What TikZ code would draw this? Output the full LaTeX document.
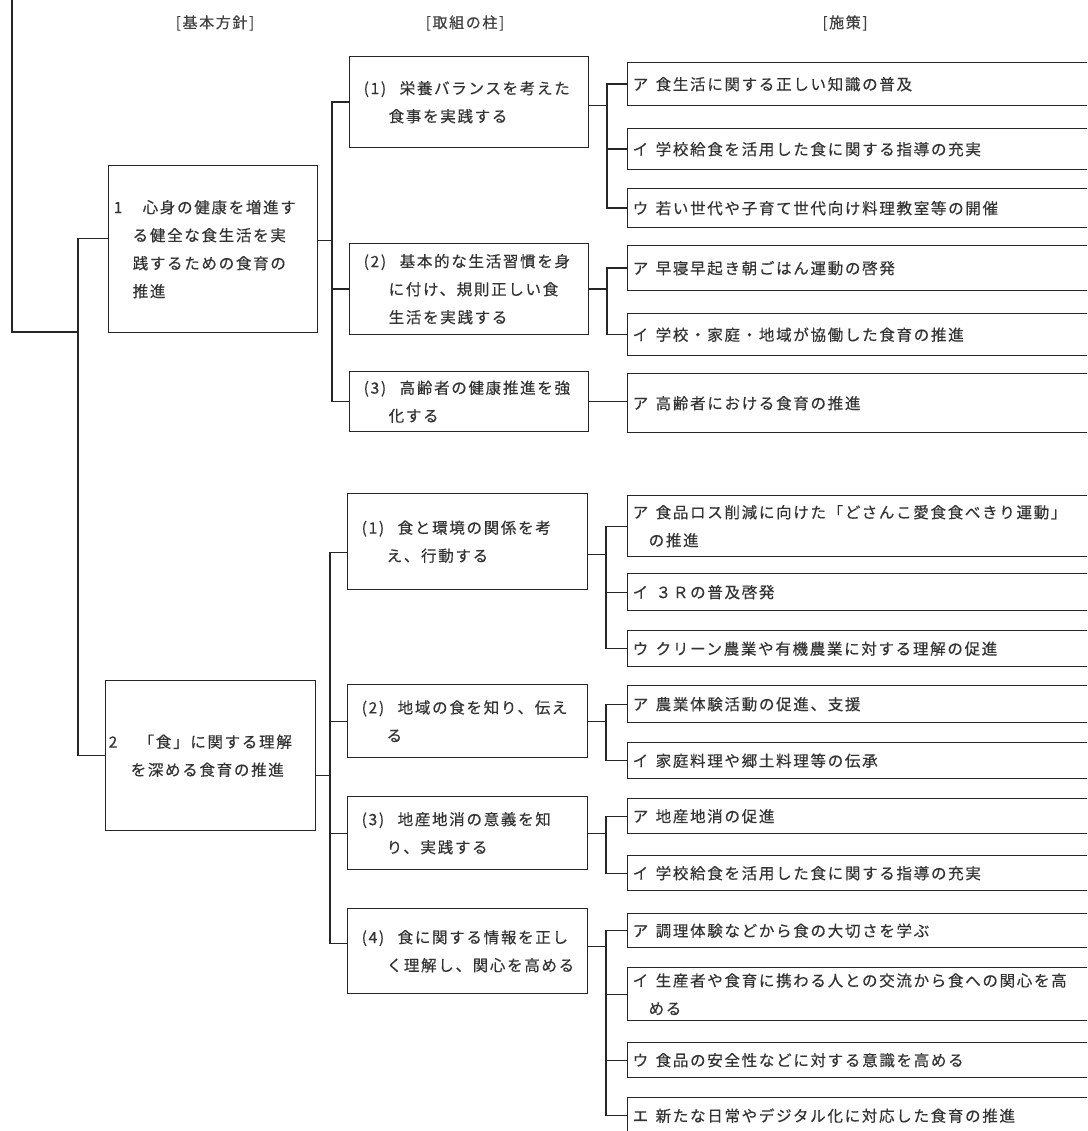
\documentclass[tikz,border=0pt]{standalone}
\usepackage{fontspec}
\setmainfont{Noto Sans CJK JP}[LetterSpace=11,FakeBold=0.4]
\newcommand\lbl[2]{\makebox[#1pt][l]{#2}}
\tikzset{
  frame/.style={draw=black!85, line width=1.4pt, anchor=north west, align=left,
    inner ysep=0pt, font=\fontsize{15.5}{28}\selectfont, text=black!80},
  conn/.style={draw=black!85, line width=1.4pt},
  head/.style={font=\fontsize{15}{18}\selectfont, text=black!75, inner sep=0pt}
}
\newcommand\putbox[7]{%
  \pgfmathsetmacro\bxw{#4-#2-2*#6}%
  \pgfmathsetmacro\bxh{#5-#3}%
  \node[frame, inner xsep=#6pt, text width=\bxw pt, minimum height=\bxh pt] (#1) at (#2,#3) {#7};}
\begin{document}
\begin{tikzpicture}[x=1pt,y=-1pt]
\useasboundingbox (0,0) rectangle (1087,1131);
\clip (0,0) rectangle (1087,1131);
\fill[white] (0,0) rectangle (1087,1131);
% headers
\node[head] (h1) at (215,23) {[基本方針]};
\node[head] (h2) at (465,23) {[取組の柱]};
\node[head] (h3) at (845,23) {[施策]};
% level 1
\putbox{L1a}{108}{165}{317}{332}{5}{\lbl{29}{1}心身の健康を増進す\\\hspace*{19pt}る健全な食生活を実\\\hspace*{19pt}践するための食育の\\\hspace*{19pt}推進}
\putbox{L1b}{105}{680}{315}{830}{3}{\lbl{30}{2}「食」に関する理解\\\hspace*{22pt}を深める食育の推進}
% level 2
\putbox{A1}{349}{56}{588}{147}{14}{\lbl{36}{(1)}栄養バランスを考えた\\\hspace*{25pt}食事を実践する}
\putbox{A2}{349}{243}{588}{334}{14}{\lbl{36}{(2)}基本的な生活習慣を身\\\hspace*{25pt}に付け、規則正しい食\\\hspace*{25pt}生活を実践する}
\putbox{A3}{349}{371}{588}{431}{14}{\lbl{36}{(3)}高齢者の健康推進を強\\\hspace*{25pt}化する}
\putbox{B1}{347}{493}{587}{589}{14}{\lbl{36}{(1)}食と環境の関係を考\\\hspace*{25pt}え、行動する}
\putbox{B2}{347}{684}{587}{757}{14}{\lbl{36}{(2)}地域の食を知り、伝え\\\hspace*{25pt}る}
\putbox{B3}{347}{796}{587}{869}{14}{\lbl{36}{(3)}地産地消の意義を知\\\hspace*{25pt}り、実践する}
\putbox{B4}{347}{908}{587}{993}{14}{\lbl{36}{(4)}食に関する情報を正し\\\hspace*{25pt}く理解し、関心を高める}
% level 3
\putbox{A1a}{627}{62}{1100}{105}{5}{\lbl{23}{ア}食生活に関する正しい知識の普及}
\putbox{A1b}{627}{128}{1100}{169}{5}{\lbl{23}{イ}学校給食を活用した食に関する指導の充実}
\putbox{A1c}{627}{188}{1100}{227}{5}{\lbl{23}{ウ}若い世代や子育て世代向け料理教室等の開催}
\putbox{A2a}{627}{245}{1100}{290}{5}{\lbl{23}{ア}早寝早起き朝ごはん運動の啓発}
\putbox{A2b}{627}{313}{1100}{355}{5}{\lbl{23}{イ}学校・家庭・地域が協働した食育の推進}
\putbox{A3a}{627}{373}{1100}{432}{5}{\lbl{23}{ア}高齢者における食育の推進}
\putbox{B1a}{627}{495}{1100}{556}{5}{\lbl{23}{ア}食品ロス削減に向けた「どさんこ愛食食べきり運動」\\\hspace*{16pt}の推進}
\putbox{B1b}{627}{573}{1100}{610}{5}{\lbl{23}{イ}３Ｒの普及啓発}
\putbox{B1c}{627}{630}{1100}{666}{5}{\lbl{23}{ウ}クリーン農業や有機農業に対する理解の促進}
\putbox{B2a}{627}{685}{1100}{722}{5}{\lbl{23}{ア}農業体験活動の促進、支援}
\putbox{B2b}{627}{742}{1100}{778}{5}{\lbl{23}{イ}家庭料理や郷土料理等の伝承}
\putbox{B3a}{627}{798}{1100}{833}{5}{\lbl{23}{ア}地産地消の促進}
\putbox{B3b}{627}{855}{1100}{890}{5}{\lbl{23}{イ}学校給食を活用した食に関する指導の充実}
\putbox{B4a}{627}{913}{1100}{947}{5}{\lbl{23}{ア}調理体験などから食の大切さを学ぶ}
\putbox{B4b}{627}{967}{1100}{1020}{5}{\lbl{23}{イ}生産者や食育に携わる人との交流から食への関心を高\\\hspace*{16pt}める}
\putbox{B4c}{627}{1042}{1100}{1077}{5}{\lbl{23}{ウ}食品の安全性などに対する意識を高める}
\putbox{B4d}{627}{1097}{1100}{1133}{5}{\lbl{23}{エ}新たな日常やデジタル化に対応した食育の推進}
% bus coordinates
\coordinate (origin) at (12,-5);
\coordinate (jn) at (78,332);
\coordinate (bus0) at (78,0);
\coordinate (bus1) at (332,0);
\coordinate (bus2) at (607,0);
\coordinate (bus3) at (330,0);
\coordinate (bus4) at (606,0);
% root connectors
\draw[conn] (origin) |- (jn);
\coordinate (w1) at ([yshift=10.5pt]L1a.west);
\draw[conn] (w1) -| (bus0 |- L1b.west) -- (L1b.west);
% group 1
\coordinate (e1) at ([yshift=8.5pt]L1a.east);
\draw[conn] (e1) -| (bus1 |- A1.west) -- (A1.west);
\draw[conn] (bus1 |- A1.west) |- (A3.west);
\draw[conn] (bus1 |- A2.west) -- (A2.west);
\coordinate (ea1) at ([yshift=-3.5pt]A1.east);
\draw[conn] (ea1) -| (bus2 |- A1a.west) -- (A1a.west);
\draw[conn] (bus2 |- A1a.west) |- (A1c.west);
\draw[conn] (bus2 |- A1b.west) -- (A1b.west);
\draw[conn] (A2.east) -| (bus2 |- A2a.west) -- (A2a.west);
\draw[conn] (bus2 |- A2a.west) |- (A2b.west);
\draw[conn] (A3.east) -- (A3a.west |- A3.east);
% group 2
\coordinate (e2) at ([yshift=-20pt]L1b.east);
\coordinate (s1) at ([yshift=-11pt]B1.west);
\coordinate (s4) at ([yshift=7.5pt]B4.west);
\draw[conn] (e2) -- (bus3 |- e2);
\draw[conn] (s1) -| (bus3 |- s4) -- (s4);
\draw[conn] (bus3 |- B2.west) -- (B2.west);
\draw[conn] (bus3 |- B3.west) -- (B3.west);
\coordinate (eb1) at ([yshift=-13pt]B1.east);
\draw[conn] (eb1) -| (bus4 |- B1a.west) -- (B1a.west);
\draw[conn] (bus4 |- B1a.west) |- (B1c.west);
\draw[conn] (bus4 |- B1b.west) -- (B1b.west);
\draw[conn] (B2.east) -| (bus4 |- B2a.west) -- (B2a.west);
\draw[conn] (bus4 |- B2a.west) |- (B2b.west);
\draw[conn] (B3.east) -| (bus4 |- B3a.west) -- (B3a.west);
\draw[conn] (bus4 |- B3a.west) |- (B3b.west);
\coordinate (eb4) at ([yshift=4.5pt]B4.east);
\draw[conn] (eb4) -| (bus4 |- B4a.west) -- (B4a.west);
\draw[conn] (bus4 |- B4a.west) |- (B4d.west);
\draw[conn] (bus4 |- B4b.west) -- (B4b.west);
\draw[conn] (bus4 |- B4c.west) -- (B4c.west);
\end{tikzpicture}
\end{document}
